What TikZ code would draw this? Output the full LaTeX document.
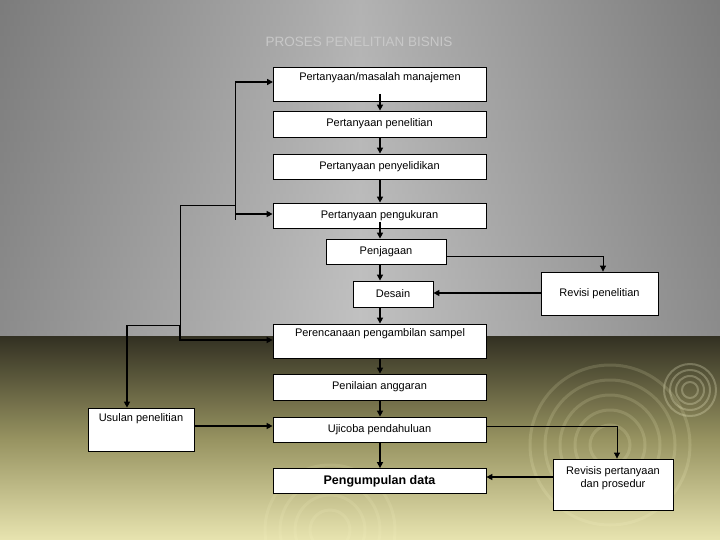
\documentclass[tikz,border=0pt]{standalone}
\usepackage{fontspec}
\setmainfont{Liberation Sans}
\usetikzlibrary{arrows.meta}
\begin{document}
\begin{tikzpicture}[x=1pt,y=-1pt,
  box/.style={draw=black,fill=white,line width=0.8pt,inner sep=0pt,font=\fontsize{11}{13}\selectfont},
  lbl/.style={font=\fontsize{11}{13}\selectfont},
  thk/.style={line width=1.6pt,-{Triangle[length=6pt,width=6pt]}},
  thn/.style={line width=0.8pt,-{Triangle[length=6pt,width=6pt]}},
  ln/.style={line width=0.8pt}]
\useasboundingbox (0,0) rectangle (720,540);
% background
\shade[top color=gray!65,bottom color=gray!40] (0,0) rectangle (720,336);
\shade[left color=black!70,right color=black!70,middle color=gray!55,opacity=0.5] (0,0) rectangle (720,336);
\shade[top color={rgb,255:red,50;green,48;blue,34},bottom color={rgb,255:red,232;green,228;blue,176},middle color={rgb,255:red,150;green,146;blue,96}] (0,336) rectangle (720,540);
\foreach \r in {8,14,20,26}{\draw[white!85!yellow,opacity=0.25,line width=2pt] (690,390) circle (\r);}
\foreach \r in {20,35,50,65,80}{\draw[white!80!yellow,opacity=0.15,line width=3pt] (610,445) circle (\r);}
\foreach \r in {20,35,50,65}{\draw[white!80!yellow,opacity=0.12,line width=3pt] (330,530) circle (\r);}
\node[text={rgb,255:red,200;green,200;blue,200},font=\fontsize{13.5}{16}\selectfont] (title) at (359,42) {PROSES PENELITIAN BISNIS};
% boxes
\node[box,minimum width=213,minimum height=34,anchor=north west] (A) at (273,67) {};
\node[lbl] (At) at (380,78) {Pertanyaan/masalah manajemen};
\node[box,minimum width=213,minimum height=26] (B) at (379.5,124) {Pertanyaan penelitian};
\node[box,minimum width=213,minimum height=25] (C) at (379.5,166.5) {Pertanyaan penyelidikan};
\node[box,minimum width=213,minimum height=25] (D) at (379.5,215.5) {Pertanyaan pengukuran};
\node[box,minimum width=120,minimum height=25] (E) at (386,251.5) {Penjagaan};
\node[box,minimum width=80,minimum height=26] (F) at (393,294) {Desain};
\node[box,minimum width=213,minimum height=34] (G) at (379.5,341) {};
\node[lbl] (Gt) at (380,334) {Perencanaan pengambilan sampel};
\node[box,minimum width=213,minimum height=26] (H) at (379.5,387) {Penilaian anggaran};
\node[box,minimum width=213,minimum height=25] (I) at (379.5,429.5) {Ujicoba pendahuluan};
\node[box,minimum width=213,minimum height=25,font=\bfseries\fontsize{12.5}{14}\selectfont] (J) at (379.5,481) {Pengumpulan data};
\node[box,minimum width=106,minimum height=43] (K) at (141,429.5) {};
\node[lbl] (Kt) at (141,419) {Usulan penelitian};
\node[box,minimum width=117,minimum height=43] (L) at (599.5,293.5) {Revisi penelitian};
\node[box,minimum width=120,minimum height=51] (M) at (613,484.5) {};
\node[lbl,align=center] (Mt) at (613,478) {Revisis pertanyaan\\dan prosedur};
% main chain
\draw[thk] (380,94) -- (B.north -| 380,0);
\draw[thk] (B.south -| 380,0) -- (C.north -| 380,0);
\draw[thk] (C.south -| 380,0) -- (D.north -| 380,0);
\draw[thk] (380,222) -- (E.north -| 380,0);
\draw[thk] (E.south -| 380,0) -- (F.north -| 380,0);
\draw[thk] (F.south -| 380,0) -- (G.north -| 380,0);
\draw[thk] (G.south -| 380,0) -- (H.north -| 380,0);
\draw[thk] (H.south -| 380,0) -- (I.north -| 380,0);
\draw[thk] (I.south -| 380,0) -- (J.north -| 380,0);
% left loops
\coordinate (p1) at (235,220);
\draw[ln] (p1) -- (235,82);
\draw[thk] (235,82) -- (A.west |- 0,82);
\draw[thk] (235,214) -- (D.west |- 0,214);
\draw[ln] (235,205) -- (180,205) -- (180,325) -- (127,325);
\draw[thk] (180,325) -- (180,340) -- (G.west |- 0,340);
\draw[thk] (127,325) -- (K.north -| 127,0);
\draw[thk] (K.east |- 0,426) -- (I.west |- 0,426);
% right loops
\draw[thn] (E.east |- 0,256) -- (603,256) -- (L.north -| 603,0);
\draw[thk] (L.west |- 0,293) -- (F.east |- 0,293);
\draw[thn] (I.east |- 0,426) -- (617,426) -- (M.north -| 617,0);
\draw[thk] (M.west |- 0,477) -- (J.east |- 0,477);
\end{tikzpicture}
\end{document}
